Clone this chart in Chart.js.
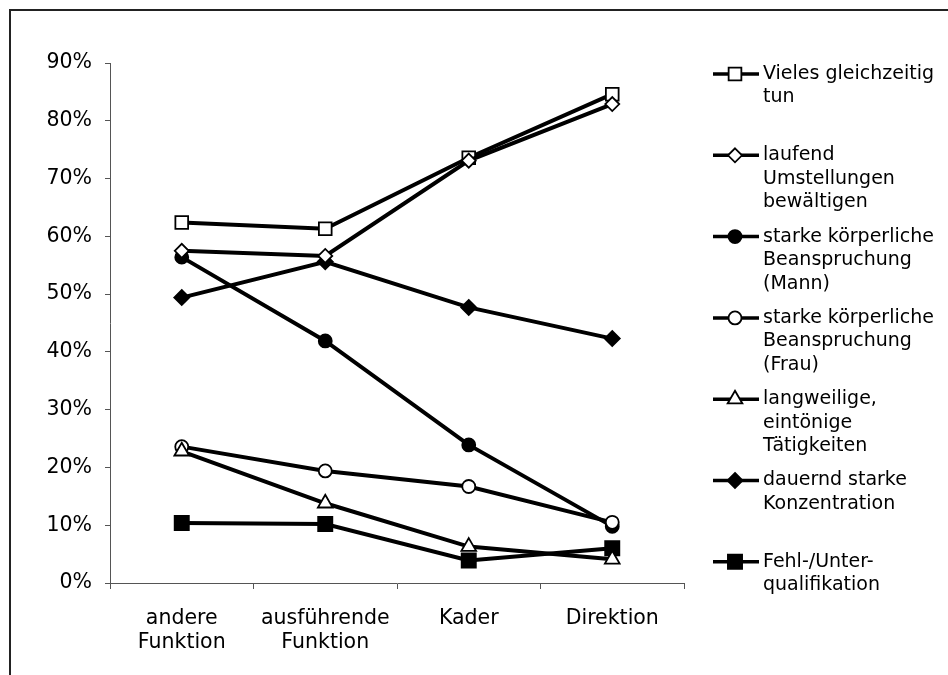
<!DOCTYPE html>
<html>
<head>
<meta charset="utf-8">
<script src="https://cdn.jsdelivr.net/npm/chart.js@4/dist/chart.umd.min.js"></script>
<style>
  html, body { margin: 0; padding: 0; background: #fff; }
  #wrap { position: relative; width: 948px; height: 675px; }
  canvas { display: block; }
</style>
</head>
<body>
<div id="wrap"><canvas id="chart" width="948" height="675"></canvas></div>
<script>
// Categories (function levels)
const categories = [
  ['andere', 'Funktion'],
  ['ausführende', 'Funktion'],
  ['Kader'],
  ['Direktion']
];

// Y axis tick range (percent)
const yMin = 0;
const yMax = 90;
const yStep = 10;

// Series labels (legend, one array per wrapped line)
const labelVieles = ['Vieles gleichzeitig', 'tun'];
const labelLaufend = ['laufend', 'Umstellungen', 'bewältigen'];
const labelMann = ['starke körperliche', 'Beanspruchung', '(Mann)'];
const labelFrau = ['starke körperliche', 'Beanspruchung', '(Frau)'];
const labelLangweilig = ['langweilige,', 'eintönige', 'Tätigkeiten'];
const labelKonzentration = ['dauernd starke', 'Konzentration'];
const labelQualifikation = ['Fehl-/Unter-', 'qualifikation'];

// Series values (percent)
const vieles = [62.4, 61.3, 73.6, 84.6];
const laufend = [57.5, 56.6, 73.1, 82.9];
const mann = [56.4, 41.9, 23.9, 9.8];
const frau = [23.6, 19.4, 16.7, 10.5];
const langweilig = [22.8, 13.8, 6.3, 4.1];
const konzentration = [49.4, 55.6, 47.7, 42.3];
const qualifikation = [10.4, 10.2, 3.9, 6.0];

const FONT = 'DejaVu Sans, Verdana, sans-serif';
const LEGEND_SIZE = 19;
const AXIS_SIZE = 20.5;

function series(label, data, style, filled, radius, order) {
  return {
    label: label,
    data: data,
    borderColor: '#000',
    borderWidth: 4,
    pointStyle: style,
    pointRadius: radius,
    pointHoverRadius: radius,
    pointBackgroundColor: filled ? '#000' : '#fff',
    pointBorderColor: '#000',
    pointBorderWidth: 1.8,
    fill: false,
    tension: 0,
    order: order
  };
}

// Frame around the figure (top and left edges)
const framePlugin = {
  id: 'frame',
  beforeDraw(chart) {
    const ctx = chart.ctx;
    ctx.save();
    ctx.fillStyle = '#fff';
    ctx.fillRect(0, 0, chart.width, chart.height);
    ctx.strokeStyle = '#222';
    ctx.lineWidth = 2;
    ctx.beginPath();
    ctx.moveTo(10, chart.height);
    ctx.lineTo(10, 10);
    ctx.lineTo(chart.width, 10);
    ctx.stroke();
    ctx.restore();
  }
};

// Legend drawn at the right, with wrapped labels
function drawMarker(ctx, ds, x, y) {
  const r = ds.pointRadius;
  ctx.save();
  ctx.fillStyle = ds.pointBackgroundColor;
  ctx.strokeStyle = ds.pointBorderColor;
  ctx.lineWidth = ds.pointBorderWidth;
  ctx.beginPath();
  if (ds.pointStyle === 'circle') {
    ctx.arc(x, y, r, 0, Math.PI * 2);
  } else if (ds.pointStyle === 'rect') {
    const s = Math.SQRT1_2 * r;
    ctx.rect(x - s, y - s, 2 * s, 2 * s);
  } else if (ds.pointStyle === 'rectRot') {
    ctx.moveTo(x, y - r);
    ctx.lineTo(x + r, y);
    ctx.lineTo(x, y + r);
    ctx.lineTo(x - r, y);
    ctx.closePath();
  } else if (ds.pointStyle === 'triangle') {
    let a = 0;
    ctx.moveTo(x + Math.sin(a) * r, y - Math.cos(a) * r);
    a += Math.PI * 2 / 3;
    ctx.lineTo(x + Math.sin(a) * r, y - Math.cos(a) * r);
    a += Math.PI * 2 / 3;
    ctx.lineTo(x + Math.sin(a) * r, y - Math.cos(a) * r);
    ctx.closePath();
  }
  ctx.fill();
  ctx.stroke();
  ctx.restore();
}

const sideLegend = {
  id: 'sideLegend',
  afterDraw(chart) {
    const ctx = chart.ctx;
    const x0 = 713, x1 = 759, tx = 763;
    const top = 74, gap = 81.3, lh = 23.5;
    chart.data.datasets.forEach((ds, i) => {
      const y = top + i * gap;
      ctx.save();
      ctx.strokeStyle = '#000';
      ctx.lineWidth = 3.5;
      ctx.beginPath();
      ctx.moveTo(x0, y);
      ctx.lineTo(x1, y);
      ctx.stroke();
      ctx.restore();
      drawMarker(ctx, ds, (x0 + x1) / 2 - 1, y);
      ctx.save();
      ctx.fillStyle = '#000';
      ctx.font = LEGEND_SIZE + 'px ' + FONT;
      ctx.textBaseline = 'middle';
      ctx.textAlign = 'left';
      ds.label.forEach((line, j) => ctx.fillText(line, tx, y + j * lh));
      ctx.restore();
    });
  }
};

new Chart(document.getElementById('chart'), {
  type: 'line',
  data: {
    labels: categories,
    datasets: [
      series(labelVieles, vieles, 'rect', false, 9, 1),
      series(labelLaufend, laufend, 'rectRot', false, 7, 0),
      series(labelMann, mann, 'circle', true, 6.5, 2),
      series(labelFrau, frau, 'circle', false, 6.5, 1),
      series(labelLangweilig, langweilig, 'triangle', false, 8.5, 0),
      series(labelKonzentration, konzentration, 'rectRot', true, 7.5, 0),
      series(labelQualifikation, qualifikation, 'rect', true, 10, 0)
    ]
  },
  options: {
    responsive: false,
    animation: false,
    events: [],
    layout: { padding: { top: 63, right: 264, left: 0, bottom: 0 } },
    plugins: {
      legend: { display: false },
      tooltip: { enabled: false }
    },
    scales: {
      x: {
        type: 'category',
        offset: true,
        grid: {
          offset: true,
          drawOnChartArea: false,
          drawTicks: true,
          tickLength: 6,
          color: '#555',
          lineWidth: 1
        },
        border: { display: true, color: '#555', width: 1 },
        ticks: {
          color: '#000',
          padding: 18,
          maxRotation: 0,
          autoSkip: false,
          font: { family: FONT, size: AXIS_SIZE, lineHeight: 1.16 }
        },
        afterFit(scale) { scale.height = 92; }
      },
      y: {
        min: yMin,
        max: yMax,
        grid: {
          drawOnChartArea: false,
          drawTicks: true,
          tickLength: 5,
          color: '#555',
          lineWidth: 1
        },
        border: { display: true, color: '#555', width: 1 },
        ticks: {
          stepSize: yStep,
          color: '#000',
          padding: 13,
          font: { family: FONT, size: AXIS_SIZE },
          callback: (v) => v + '%'
        },
        afterFit(scale) { scale.width = 110; }
      }
    }
  },
  plugins: [framePlugin, sideLegend]
});
</script>
</body>
</html>
